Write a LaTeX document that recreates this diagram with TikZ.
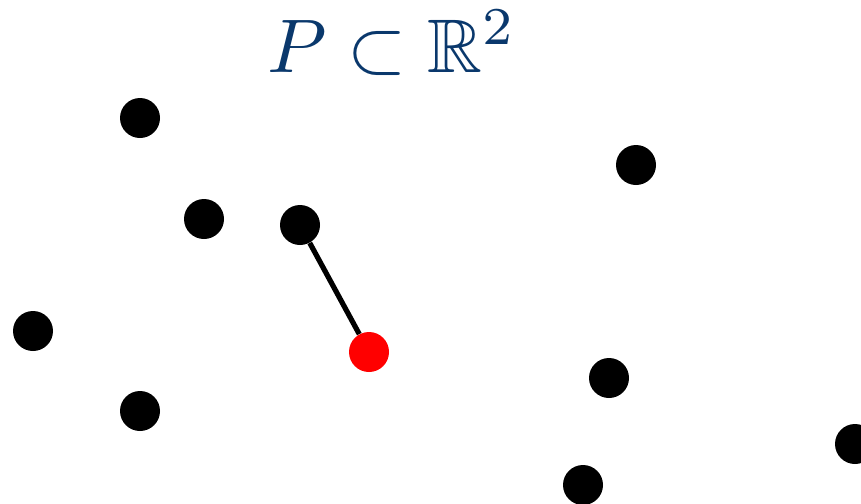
\documentclass[tikz,border=0pt]{standalone}
\usepackage{amsmath,amssymb}
\usepackage{tikz}
\usetikzlibrary{positioning}
\definecolor{titleblue}{RGB}{10,56,108}
\tikzset{
  pt/.style={circle,fill=black,inner sep=0pt,minimum size=20pt},
  query/.style={pt,fill=red},
  link/.style={line width=2.6pt}
}
\begin{document}
\begin{tikzpicture}[x=0.5pt,y=-0.5pt]
  \useasboundingbox (0,0) rectangle (861,503);
  % title
  \node[text=titleblue,font=\normalsize,scale=3.8,inner sep=0pt,anchor=base] (title) at (392,72) {$P\subset\mathbb{R}^2$};
  % point set
  \node[pt] (p1) at (140,118) {};
  \node[pt] (p2) at (636,165) {};
  \node[pt] (p3) at (204,219) {};
  \node[pt] (p4) at (300,225) {};
  \node[pt] (p5) at (33,331) {};
  \node[pt] (p6) at (140,411) {};
  \node[pt] (p7) at (609,378) {};
  \node[pt] (p8) at (855,444) {};
  \node[pt] (p9) at (583,485) {};
  % query point and its nearest neighbour
  \node[query] (q) at (369,352) {};
  \draw[link] (p4) -- (q);
\end{tikzpicture}
\end{document}
